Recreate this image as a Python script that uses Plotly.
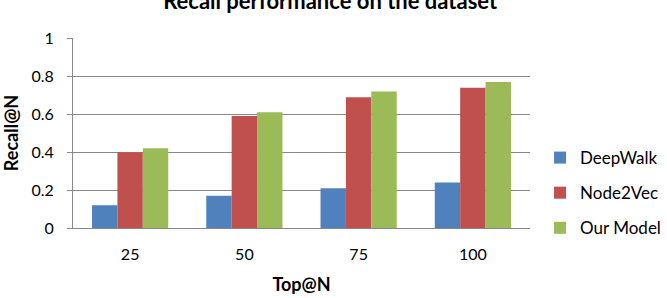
import plotly.graph_objects as go

categories = ["25", "50", "75", "100"]
deepwalk = [0.12, 0.17, 0.21, 0.24]
node2vec = [0.40, 0.59, 0.69, 0.74]
our_model = [0.42, 0.61, 0.72, 0.77]
series_names = ["DeepWalk", "Node2Vec", "Our Model"]
colors = ["#4F81BD", "#C0504D", "#9BBB59"]
y_ticks = [0, 0.2, 0.4, 0.6, 0.8, 1]

FONT = "Lato"
fig = go.Figure()
for i, (name, vals) in enumerate(zip(series_names, [deepwalk, node2vec, our_model])):
    fig.add_trace(go.Bar(x=categories, y=vals, name=name, marker_color=colors[i],
                         marker_line_width=0, legendgroup=name))

fig.update_layout(
    width=667, height=298,
    margin=dict(l=73, r=137, t=38, b=70, autoexpand=False),
    paper_bgcolor="white", plot_bgcolor="white",
    barmode="group", bargap=0.333, bargroupgap=0,
    font=dict(family=FONT, size=16, color="#000000"),
    title=dict(text="<b>Recall performance on the dataset</b>", x=0.495, xanchor="center",
               y=0.997, yref="container", yanchor="middle", font=dict(size=22, family=FONT)),
    showlegend=True,
    legend=dict(x=1.022, xanchor="left", y=0.184, yanchor="middle",
                font=dict(size=17, family=FONT), tracegroupgap=10,
                bgcolor="rgba(0,0,0,0)", itemwidth=30),
    xaxis=dict(type="category", showline=True, linecolor="#888888", linewidth=1,
               ticks="", showgrid=False, ticklabelstandoff=12,
               tickfont=dict(size=16, family=FONT),
               title=dict(text="<b>Top@N</b>", font=dict(size=18, family=FONT), standoff=16)),
    yaxis=dict(range=[0, 1.002], tickvals=y_ticks, showline=True, linecolor="#888888", linewidth=1,
               ticks="outside", ticklen=5, tickcolor="#888888", ticklabelstandoff=10,
               tickfont=dict(size=16, family=FONT),
               showgrid=True, gridcolor="#888888", gridwidth=1, zeroline=False,
               title=dict(text="<b>Recall@N</b>", font=dict(size=18, family=FONT), standoff=8)),
)

fig.write_html("out.html")
